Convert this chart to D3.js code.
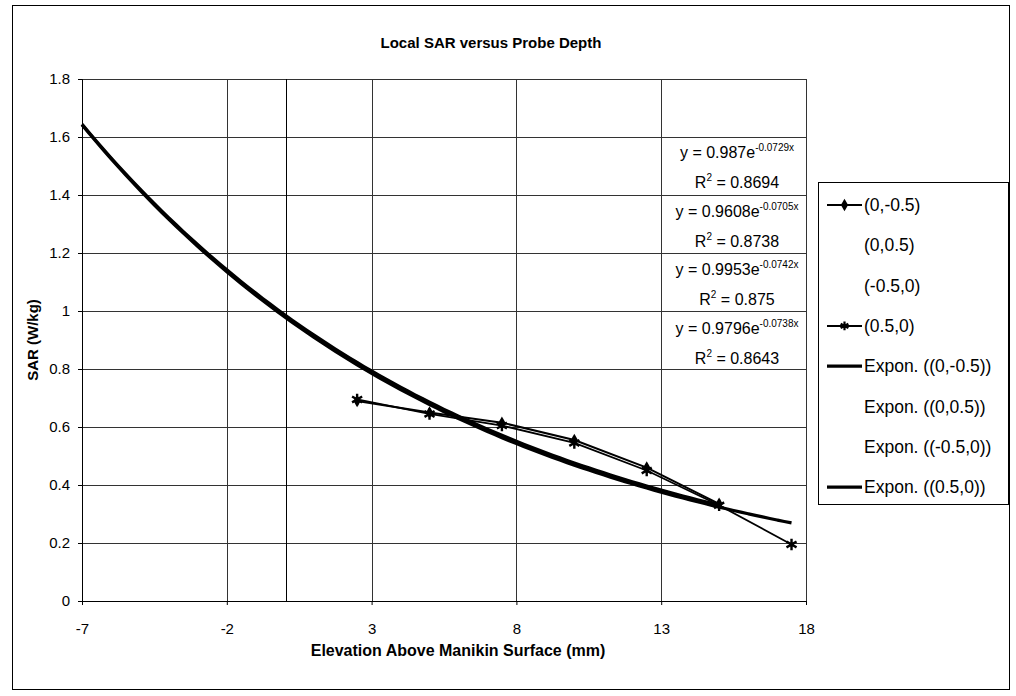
<!DOCTYPE html>
<html>
<head>
<meta charset="utf-8">
<script src="https://cdn.jsdelivr.net/npm/d3@7"></script>
<style>
  body { margin: 0; background: #fff; }
  text { font-family: Arial, "Liberation Sans", sans-serif; fill: #000; }
</style>
</head>
<body>
<svg id="chart" width="1016" height="696"></svg>
<script>
// values
const xTicks = [-7, -2, 3, 8, 13, 18];
const yTicks = [0, 0.2, 0.4, 0.6, 0.8, 1, 1.2, 1.4, 1.6, 1.8];

const depthNeg = [2.5, 5, 7.5, 10, 12.5, 15];
const sarNeg = [0.69, 0.65, 0.615, 0.555, 0.46, 0.335];      // (0,-0.5)
const depthPos = [2.5, 5, 7.5, 10, 12.5, 15, 17.5];
const sarPos = [0.695, 0.645, 0.605, 0.545, 0.45, 0.33, 0.195]; // (0.5,0)

const seriesNames = ['(0,-0.5)', '(0,0.5)', '(-0.5,0)', '(0.5,0)'];
const trendA = [0.987, 0.9608, 0.9953, 0.9796];
const trendB = [-0.0729, -0.0705, -0.0742, -0.0738];
const trendR2 = ['0.8694', '0.8738', '0.875', '0.8643'];
const trendEnd = [15, null, null, 17.5]; // only two trendlines show in the scan

const svg = d3.select('#chart');

const x = d3.scaleLinear().domain([-7, 18]).range([82, 806]);
const y = d3.scaleLinear().domain([0, 1.8]).range([601, 79]);

// chart border
svg.append('rect')
  .attr('x', 12.5).attr('y', 5.5).attr('width', 997).attr('height', 684)
  .attr('fill', 'none').attr('stroke', '#000');

svg.append('text')
  .attr('x', 491).attr('y', 48)
  .attr('text-anchor', 'middle')
  .style('font-size', '15px').style('font-weight', 'bold')
  .text('Local SAR versus Probe Depth');

// grid
const grid = svg.append('g').attr('stroke', '#333').attr('stroke-width', 1);
grid.selectAll('.gy').data(yTicks).join('line')
  .attr('x1', x(-7)).attr('x2', x(18))
  .attr('y1', d => Math.round(y(d)) + 0.5).attr('y2', d => Math.round(y(d)) + 0.5);
grid.selectAll('.gx').data(xTicks).join('line')
  .attr('y1', y(0)).attr('y2', y(1.8))
  .attr('x1', d => Math.round(x(d)) + 0.5).attr('x2', d => Math.round(x(d)) + 0.5);

// value axis crosses at x = 0
svg.append('line')
  .attr('x1', Math.round(x(0)) + 1.5).attr('x2', Math.round(x(0)) + 1.5)
  .attr('y1', y(0)).attr('y2', y(1.8))
  .attr('stroke', '#000');

const xAxis = svg.append('g')
  .attr('transform', `translate(0,${y(0)})`)
  .call(d3.axisBottom(x).tickValues(xTicks).tickSize(4).tickPadding(18).tickFormat(d => String(d)));
const yAxis = svg.append('g')
  .attr('transform', `translate(${x(-7)},0)`)
  .call(d3.axisLeft(y).tickValues(yTicks).tickSize(4).tickPadding(8).tickFormat(d => String(+d.toFixed(1))));
[xAxis, yAxis].forEach(a => {
  a.select('.domain').attr('stroke', '#000');
  a.selectAll('.tick line').attr('stroke', '#000');
  a.selectAll('text').style('font-size', '15px').attr('font-family', null);
});

svg.append('text')
  .attr('x', 458).attr('y', 656)
  .attr('text-anchor', 'middle')
  .style('font-size', '16px').style('font-weight', 'bold')
  .text('Elevation Above Manikin Surface (mm)');

svg.append('text')
  .attr('transform', 'translate(38,340) rotate(-90)')
  .attr('text-anchor', 'middle')
  .style('font-size', '15px').style('font-weight', 'bold')
  .text('SAR (W/kg)');

// trendlines
const curve = d3.line().x(d => x(d[0])).y(d => y(d[1])).curve(d3.curveMonotoneX);
trendA.forEach((a, i) => {
  if (trendEnd[i] === null) return;
  const pts = d3.range(-7, trendEnd[i] + 0.001, 0.25).map(v => [v, a * Math.exp(trendB[i] * v)]);
  svg.append('path').datum(pts)
    .attr('d', curve).attr('fill', 'none')
    .attr('stroke', '#000').attr('stroke-width', 3.2);
});

// data series
const dataLine = d3.line().x(d => x(d[0])).y(d => y(d[1]));
const negPts = d3.zip(depthNeg, sarNeg);
const posPts = d3.zip(depthPos, sarPos);

svg.append('path').datum(negPts)
  .attr('d', dataLine).attr('fill', 'none').attr('stroke', '#000').attr('stroke-width', 2);
svg.selectAll('.dia').data(negPts).join('path')
  .attr('transform', d => `translate(${x(d[0])},${y(d[1])})`)
  .attr('d', d3.symbol(d3.symbolDiamond, 45)).attr('fill', '#000');

svg.append('path').datum(posPts)
  .attr('d', dataLine).attr('fill', 'none').attr('stroke', '#000').attr('stroke-width', 1.8);
svg.selectAll('.ast').data(posPts).join('path')
  .attr('transform', d => `translate(${x(d[0])},${y(d[1])})`)
  .attr('d', d3.symbol(d3.symbolAsterisk, 95))
  .attr('fill', 'none').attr('stroke', '#000').attr('stroke-width', 2.4);

// trendline equations
const eq = svg.append('g').attr('text-anchor', 'middle').style('font-size', '16px');
trendA.forEach((a, i) => {
  const cy = 152 + i * 58.7;
  const t1 = eq.append('text').attr('x', 737).attr('y', cy + 6);
  t1.append('tspan').text(`y = ${a}e`);
  t1.append('tspan').attr('dy', -7).style('font-size', '10px').text(`${trendB[i]}x`);
  const t2 = eq.append('text').attr('x', 737).attr('y', cy + 36);
  t2.append('tspan').text('R');
  t2.append('tspan').attr('dy', -7).style('font-size', '10px').text('2');
  t2.append('tspan').attr('dy', 7).text(` = ${trendR2[i]}`);
});

// legend
const legendItems = seriesNames.map((n, i) => ({ name: n, kind: i === 0 ? 'diamond' : i === 3 ? 'asterisk' : 'none' }))
  .concat(seriesNames.map((n, i) => ({ name: `Expon. (${n})`, kind: trendEnd[i] === null ? 'none' : 'trend' })));

svg.append('rect')
  .attr('x', 818.5).attr('y', 182.5).attr('width', 190).attr('height', 322)
  .attr('fill', '#fff').attr('stroke', '#000');

const lg = svg.append('g').selectAll('g').data(legendItems).join('g')
  .attr('transform', (d, i) => `translate(0,${205 + i * 40.3})`);
lg.filter(d => d.kind !== 'none').append('line')
  .attr('x1', 827).attr('x2', 862).attr('y1', 0).attr('y2', 0)
  .attr('stroke', '#000').attr('stroke-width', d => d.kind === 'trend' ? 3.2 : 2);
lg.filter(d => d.kind === 'diamond').append('path')
  .attr('transform', 'translate(844.5,0)')
  .attr('d', d3.symbol(d3.symbolDiamond, 45)).attr('fill', '#000');
lg.filter(d => d.kind === 'asterisk').append('path')
  .attr('transform', 'translate(844.5,0)')
  .attr('d', d3.symbol(d3.symbolAsterisk, 55))
  .attr('fill', 'none').attr('stroke', '#000').attr('stroke-width', 2.2);
lg.append('text')
  .attr('x', 864).attr('y', 6)
  .style('font-size', '17.5px')
  .text(d => d.name);
</script>
</body>
</html>
